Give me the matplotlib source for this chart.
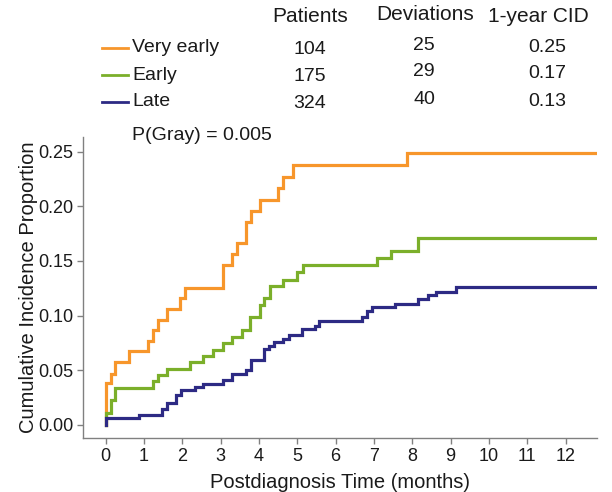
import matplotlib
matplotlib.use("Agg")
import matplotlib.pyplot as plt

plt.rcParams['font.family'] = ['Liberation Sans', 'DejaVu Sans']

# ---- data ----
groups = ["Very early", "Early", "Late"]
patients = ["104", "175", "324"]
deviations = ["25", "29", "40"]
cid_1yr = ["0.25", "0.17", "0.13"]
p_gray = "P(Gray) = 0.005"

t_ve = [0, 0, 0.13, 0.24, 0.62, 1.11, 1.23, 1.36, 1.61, 1.95, 2.08, 3.06, 3.29,
        3.42, 3.65, 3.78, 4.03, 4.51, 4.64, 4.88, 7.85, 12.8]
v_ve = [0, 0.038, 0.047, 0.058, 0.068, 0.077, 0.087, 0.096, 0.106, 0.116, 0.125,
        0.146, 0.156, 0.166, 0.186, 0.196, 0.206, 0.217, 0.227, 0.238, 0.249, 0.249]

t_e = [0, 0, 0.13, 0.24, 1.23, 1.36, 1.61, 2.20, 2.55, 2.81, 3.07, 3.29, 3.55,
       3.77, 4.03, 4.14, 4.28, 4.62, 5.0, 5.14, 7.07, 7.45, 8.15, 12.8]
v_e = [0, 0.011, 0.023, 0.034, 0.040, 0.0455, 0.0515, 0.058, 0.063, 0.069, 0.075,
       0.080, 0.087, 0.099, 0.110, 0.116, 0.127, 0.133, 0.140, 0.146, 0.153, 0.159,
       0.171, 0.171]

t_l = [0, 0, 0.86, 1.46, 1.59, 1.83, 1.96, 2.33, 2.53, 3.05, 3.29, 3.65, 3.78,
       4.13, 4.25, 4.39, 4.64, 4.79, 5.12, 5.47, 5.57, 6.70, 6.81, 6.94, 7.55,
       8.16, 8.40, 8.63, 9.14, 12.8]
v_l = [0, 0.006, 0.009, 0.0143, 0.0198, 0.0274, 0.032, 0.0344, 0.0378, 0.041,
       0.047, 0.0505, 0.0595, 0.0695, 0.0725, 0.0755, 0.0785, 0.0825, 0.088,
       0.0905, 0.095, 0.099, 0.1045, 0.108, 0.111, 0.115, 0.119, 0.122, 0.126,
       0.126]

x_ticks = list(range(0, 13))
y_ticks = [0.00, 0.05, 0.10, 0.15, 0.20, 0.25]
y_ticklabels = ["0.00", "0.05", "0.10", "0.15", "0.20", "0.25"]

colors = ["#F7962B", "#7BAF2A", "#2D2A84"]
series = [(t_ve, v_ve), (t_e, v_e), (t_l, v_l)]

W, H = 612, 492
fig = plt.figure(figsize=(W / 100, H / 100), dpi=100)
ax = fig.add_axes([83 / W, 1 - 438 / H, (597 - 83) / W, (438 - 137) / H])

for (t, v), c in zip(series, colors):
    ax.plot(t, v, drawstyle='steps-post', color=c, lw=2.3, solid_joinstyle='miter')

ax.set_xlim(-0.59, 12.82)
ax.set_ylim(-0.0119, 0.2633)
ax.set_xticks(x_ticks)
ax.set_yticks(y_ticks)
ax.set_yticklabels(y_ticklabels)
for s in ['top', 'right']:
    ax.spines[s].set_visible(False)
for s in ['left', 'bottom']:
    ax.spines[s].set_color('#808080')
    ax.spines[s].set_linewidth(1.0)
ax.tick_params(axis='both', colors='#808080', length=4, width=1.0,
               labelsize=13, labelcolor='#1a1a1a', pad=3)
ax.set_xlabel("Postdiagnosis Time (months)", fontsize=14.5, color='#1a1a1a', labelpad=6)
ax.set_ylabel("Cumulative Incidence Proportion", fontsize=14.5, color='#1a1a1a', labelpad=0)

def ft(x, y, s, ha='center', size=14, **kw):
    fig.text(x / W, 1 - y / H, s, ha=ha, va='center', fontsize=size,
             color='#1a1a1a', **kw)

ft(310, 17, "Patients", size=15)
ft(425, 15, "Deviations", size=15)
ft(538, 17, "1-year CID", size=15)
row_y = [48, 75, 102]
for i, g in enumerate(groups):
    y = row_y[i]
    fig.add_artist(plt.Line2D([102 / W, 128 / W], [1 - y / H, 1 - y / H],
                              color=colors[i], lw=2.0, transform=fig.transFigure))
    ft(132, y, g, ha='left')
    ft(310, y + 1, patients[i])
    ft(424, y - 3, deviations[i])
    ft(547, y - 1, cid_1yr[i])
ft(132, 135, p_gray, ha='left')

fig.savefig("out.png", dpi=100)
